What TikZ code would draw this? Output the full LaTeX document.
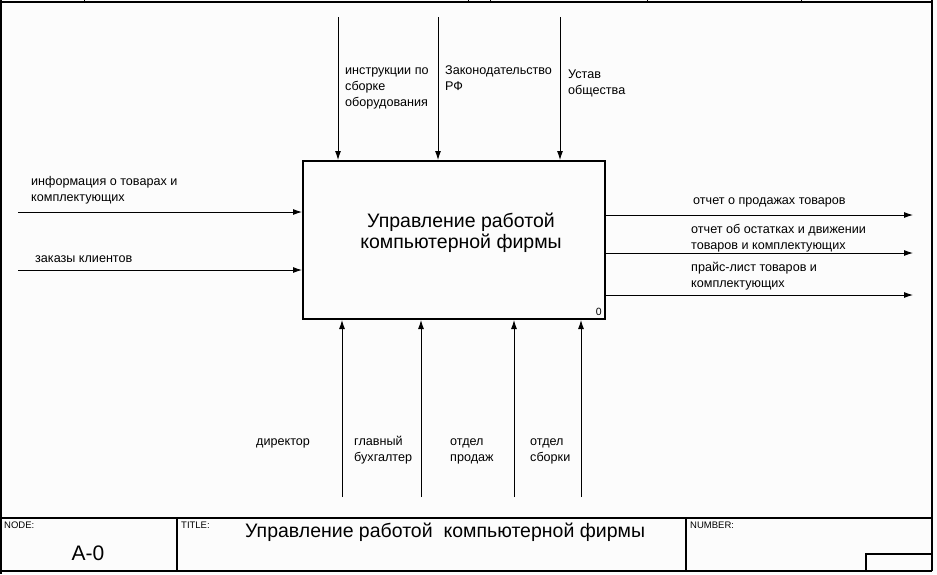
\documentclass[tikz,border=0pt]{standalone}
\usepackage{fontspec}
\setmainfont{Liberation Sans}
\usetikzlibrary{arrows.meta}
\begin{document}
\begin{tikzpicture}[x=1pt,y=-1pt,
  lbl/.style={anchor=base west,inner sep=0pt,align=left,font=\fontsize{12.6}{16}\selectfont},
  small/.style={anchor=base west,inner sep=0pt,font=\fontsize{9.5}{11}\selectfont},
  arr/.style={line width=0.9pt,-{Latex[length=9pt,width=6pt]}},
  frame/.style={line width=1.2pt},
  boxst/.style={draw,line width=2pt,minimum width=302pt,minimum height=158pt,inner sep=0pt}]
\useasboundingbox (0,0) rectangle (937,574);
\fill[gray!2] (0,0) rectangle (937,574);
% outer frame
\draw[line width=2pt] (1,0) -- (1,574);
\draw[frame] (1,2) -- (932,2);
\draw[frame] (932,0) -- (932,571);
\foreach \t in {84,468,490,647,801} \draw[line width=0.8pt] (\t,0) -- (\t,2);
% title block
\draw[frame] (1,518) -- (932,518);
\draw[frame] (1,571) -- (932,571);
\draw[frame] (177,518) -- (177,571);
\draw[frame] (686,518) -- (686,571);
\draw[frame] (866,571) -- (866,554) -- (932,554);
\node[small] (nodelbl) at (4,528) {NODE:};
\node[small] (titlelbl) at (181,528) {TITLE:};
\node[small] (numlbl) at (690,528) {NUMBER:};
\node[anchor=base,inner sep=0pt,font=\fontsize{21}{24}\selectfont] (nodeid) at (88,560) {A-0};
\node[anchor=base west,inner sep=0pt,font=\fontsize{19.5}{22}\selectfont] (titletxt) at (245,537) {Управление работой\ \ компьютерной фирмы};
% main box
\node[boxst] (A0) at (454,240) {};
\node[align=center,inner sep=0pt,font=\fontsize{19.5}{21}\selectfont] (A0text) at (461,233) {Управление работой\\ компьютерной фирмы};
\node[anchor=base east,inner sep=0pt,font=\fontsize{10.5}{12}\selectfont] (A0num) at (602,315) {0};
% controls
\coordinate (c1) at (338,17);
\coordinate (c2) at (438,17);
\coordinate (c3) at (560,17);
\draw[arr] (c1) -- (c1 |- A0.north);
\draw[arr] (c2) -- (c2 |- A0.north);
\draw[arr] (c3) -- (c3 |- A0.north);
\node[lbl] (cl1) at (345,106) {инструкции по\\сборке\\оборудования};
\node[lbl] (cl2) at (445,90) {Законодательство\\РФ};
\node[lbl] (cl3) at (568,94) {Устав\\общества};
% inputs
\coordinate (i1) at (18,212);
\coordinate (i2) at (18,270);
\draw[arr] (i1) -- (i1 -| A0.west);
\draw[arr] (i2) -- (i2 -| A0.west);
\node[lbl] (il1) at (31,201) {информация о товарах и\\комплектующих};
\node[lbl] (il2) at (35,262) {заказы клиентов};
% outputs
\coordinate (o1) at (913,215);
\coordinate (o2) at (913,253);
\coordinate (o3) at (913,295);
\draw[arr] (o1 -| A0.east) -- (o1);
\draw[arr] (o2 -| A0.east) -- (o2);
\draw[arr] (o3 -| A0.east) -- (o3);
\node[lbl] (ol1) at (693,204) {отчет о продажах товаров};
\node[lbl] (ol2) at (691,249) {отчет об остатках и движении\\товаров и комплектующих};
\node[lbl] (ol3) at (691,287) {прайс-лист товаров и\\комплектующих};
% mechanisms
\coordinate (m1) at (342,497);
\coordinate (m2) at (421,497);
\coordinate (m3) at (514,497);
\coordinate (m4) at (581,497);
\draw[arr] (m1) -- (m1 |- A0.south);
\draw[arr] (m2) -- (m2 |- A0.south);
\draw[arr] (m3) -- (m3 |- A0.south);
\draw[arr] (m4) -- (m4 |- A0.south);
\node[lbl] (ml1) at (256,445) {директор};
\node[lbl] (ml2) at (354,461) {главный\\бухгалтер};
\node[lbl] (ml3) at (450,461) {отдел\\продаж};
\node[lbl] (ml4) at (530,461) {отдел\\сборки};
\end{tikzpicture}
\end{document}
